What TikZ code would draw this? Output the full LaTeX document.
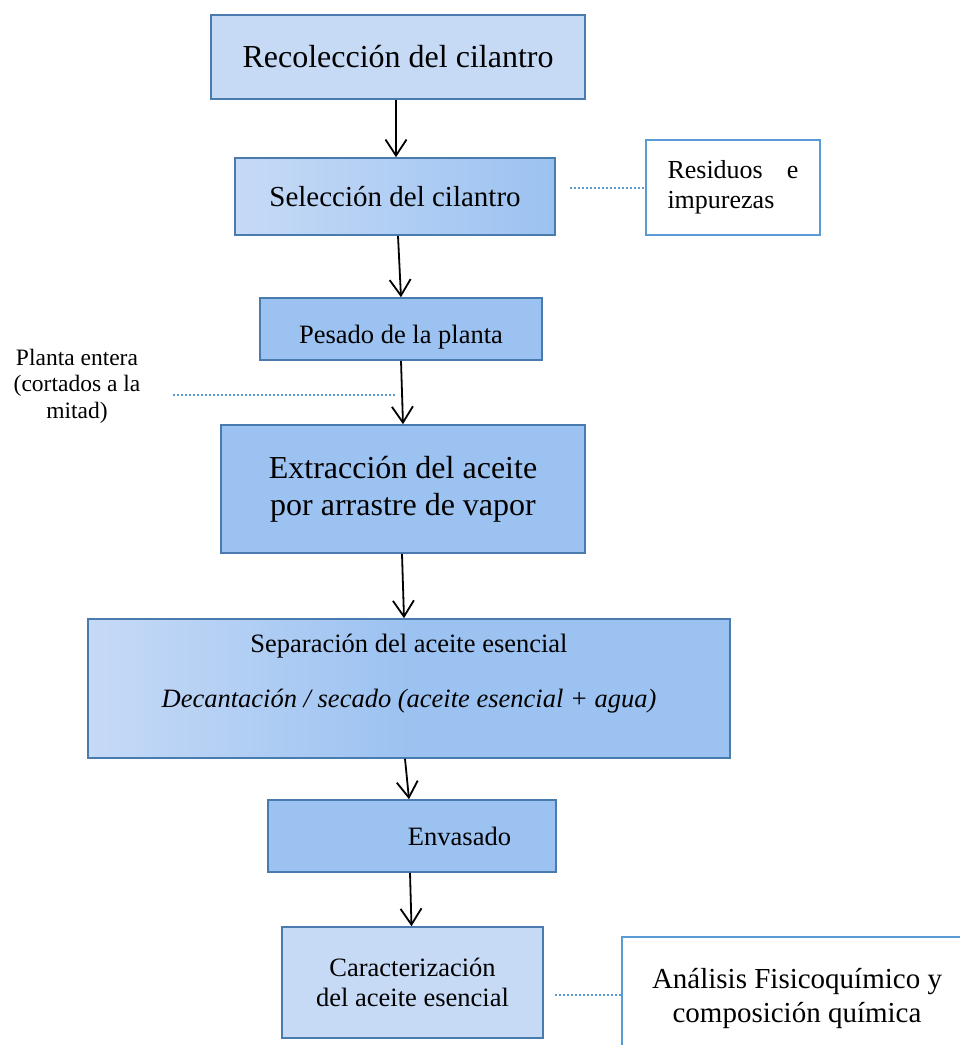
\documentclass[tikz,border=0pt]{standalone}
\usepackage{fontspec}
\setmainfont{Liberation Serif}
\usetikzlibrary{arrows.meta,calc}
\definecolor{bord}{HTML}{4A7BAF}
\definecolor{lite}{HTML}{C6DAF6}
\definecolor{mid}{HTML}{9CC2F1}
\definecolor{dotc}{HTML}{5B9BD5}
\tikzset{
  x=1pt,y=1pt,
  box/.style={draw=bord,line width=1.6pt,inner sep=0pt,align=center},
  plainbox/.style={box,fill=lite},
  gradbox/.style={box,left color=lite,right color=mid},
  midbox/.style={box,fill=mid},
  sidebox/.style={draw=dotc,line width=1.6pt,fill=white,inner sep=0pt},
  arr/.style={draw=black,line width=1.8pt,-{Straight Barb[length=16pt,width=21pt,line width=1.8pt]}},
  dots/.style={draw=dotc,line width=2pt,dotted},
}
\begin{document}
\begin{tikzpicture}
\clip (0,0) rectangle (960,-1045);
\fill[white] (0,0) rectangle (960,-1045);
% boxes
\node[plainbox,minimum width=374,minimum height=84,font=\fontsize{32}{36}\selectfont] (b1) at (398,-57) {Recolección del cilantro};
\node[gradbox,minimum width=320,minimum height=77,font=\fontsize{29}{33}\selectfont] (b2) at (395,-196.5) {Selección del cilantro};
\node[midbox,minimum width=282,minimum height=62,font=\fontsize{26.5}{30}\selectfont] (b3) at (401,-329) {\smash{\raisebox{-14pt}{Pesado de la planta}}};
\node[midbox,minimum width=364,minimum height=128,font=\fontsize{32}{37}\selectfont] (b4) at (403,-489) {Extracción del aceite\\por arrastre de vapor};
\node[box,minimum width=642,minimum height=139,left color=lite,right color=mid,middle color=mid] (b5) at (409,-688.5) {};
\node[font=\fontsize{26.5}{30}\selectfont] (t5a) at (409,-646) {Separación del aceite esencial};
\node[font=\fontsize{26.5}{30}\selectfont\itshape] (t5b) at (409,-701) {Decantación / secado (aceite esencial + agua)};
\node[midbox,minimum width=288,minimum height=72,font=\fontsize{26.5}{30}\selectfont] (b6) at (412,-836) {\hspace*{95pt}Envasado};
\node[plainbox,minimum width=261,minimum height=111,font=\fontsize{26.5}{30}\selectfont] (b7) at (412.5,-982.5) {Caracterización\\del aceite esencial};
% side boxes
\node[sidebox,minimum width=174,minimum height=95,font=\fontsize{26}{30}\selectfont,text width=131pt,align=left] (r1) at (733,-187.5) {Residuos\hfill e\\impurezas};
\node[sidebox,minimum width=350,minimum height=122,font=\fontsize{29}{34}\selectfont,align=center] (r2) at (797,-998) {Análisis Fisicoquímico y\\composición química};
\node[font=\fontsize{23.5}{26.5}\selectfont,align=center] (pl) at (77,-386) {Planta entera\\(cortados a la\\mitad)};
% arrows
\draw[arr] ([xshift=-2pt]b1.south) -- ([xshift=1pt]b2.north);
\draw[arr] ([xshift=3pt]b2.south) -- (b3.north);
\draw[arr] (b3.south) -- (b4.north);
\draw[arr] ([xshift=-1pt]b4.south) -- ([xshift=-5pt]b5.north);
\draw[arr] ([xshift=-4pt]b5.south) -- ([xshift=-3pt]b6.north);
\draw[arr] ([xshift=-2pt]b6.south) -- ([xshift=-1pt]b7.north);
% dotted connectors
\coordinate (d1) at (570,-188);
\draw[dots] (d1) -- (d1 -| r1.west);
\coordinate (d2) at (173,-395);
\coordinate (d2e) at (395,-395);
\draw[dots] (d2) -- (d2e);
\coordinate (d3) at (555,-995);
\draw[dots] (d3) -- (d3 -| r2.west);
\end{tikzpicture}
\end{document}
